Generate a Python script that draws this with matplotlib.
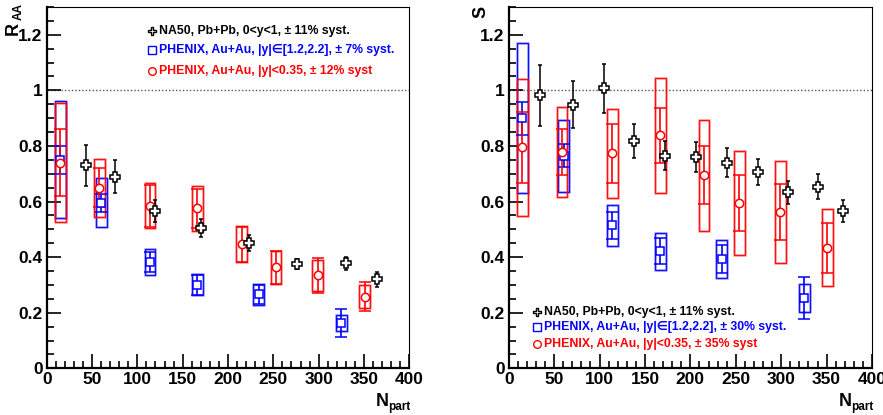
import matplotlib
matplotlib.use("Agg")
import matplotlib.pyplot as plt
from matplotlib.patches import Rectangle
from matplotlib.ticker import MultipleLocator

FAM = ['Liberation Sans', 'DejaVu Sans']
plt.rcParams['font.family'] = FAM
plt.rcParams['font.weight'] = 'bold'

# ---------------- Left panel: R_AA ----------------
na50_npart_L = [43, 75, 119, 170, 223, 276, 330, 364]
na50_raa = [0.73, 0.69, 0.565, 0.505, 0.45, 0.375, 0.378, 0.32]
na50_raa_err = [0.073, 0.06, 0.04, 0.033, 0.028, 0.019, 0.023, 0.028]

fwd_npart_L = [15, 60, 114, 166, 234, 325]
fwd_raa = [0.75, 0.595, 0.383, 0.30, 0.266, 0.164]
fwd_raa_stat = [0.05, 0.032, 0.037, 0.035, 0.035, 0.05]
fwd_raa_syst = [0.21, 0.088, 0.047, 0.038, 0.037, 0.028]

mid_npart_L = [15, 58, 114, 166, 215, 253, 299, 351]
mid_raa = [0.74, 0.65, 0.585, 0.575, 0.446, 0.363, 0.334, 0.258]
mid_raa_stat = [0.12, 0.07, 0.075, 0.07, 0.063, 0.06, 0.063, 0.053]
mid_raa_syst = [0.215, 0.104, 0.08, 0.08, 0.065, 0.06, 0.055, 0.042]

# ---------------- Right panel: S ----------------
na50_npart_R = [34.5, 71, 105, 138, 172, 206, 240, 274, 308, 340, 368]
na50_s = [0.983, 0.948, 1.007, 0.818, 0.765, 0.76, 0.74, 0.706, 0.633, 0.653, 0.565]
na50_s_err = [0.11, 0.084, 0.087, 0.061, 0.053, 0.055, 0.051, 0.048, 0.042, 0.045, 0.039]

fwd_npart_R = [15, 60.6, 114, 166.7, 234.7, 325.4]
fwd_s = [0.899, 0.765, 0.514, 0.421, 0.393, 0.252]
fwd_s_stat = [0.06, 0.041, 0.05, 0.047, 0.05, 0.076]
fwd_s_syst = [0.27, 0.13, 0.075, 0.066, 0.068, 0.05]

mid_npart_R = [15, 58.7, 114, 166.7, 215, 254, 299, 351]
mid_s = [0.795, 0.777, 0.773, 0.838, 0.695, 0.595, 0.562, 0.434]
mid_s_stat = [0.127, 0.083, 0.105, 0.098, 0.105, 0.1, 0.1, 0.09]
mid_s_syst = [0.247, 0.162, 0.16, 0.206, 0.2, 0.187, 0.184, 0.139]

legend_L = ["NA50, Pb+Pb, 0<y<1, \u00b1 11% syst.",
            "PHENIX, Au+Au, |y|\u2208[1.2,2.2], \u00b1 7% syst.",
            "PHENIX, Au+Au, |y|<0.35, \u00b1 12% syst"]
legend_R = ["NA50, Pb+Pb, 0<y<1, \u00b1 11% syst.",
            "PHENIX, Au+Au, |y|\u2208[1.2,2.2], \u00b1 30% syst.",
            "PHENIX, Au+Au, |y|<0.35, \u00b1 35% syst"]

x_ticks = [0, 50, 100, 150, 200, 250, 300, 350, 400]
y_ticks = [0, 0.2, 0.4, 0.6, 0.8, 1.0, 1.2]
y_ticklabels = ['0', '0.2', '0.4', '0.6', '0.8', '1', '1.2']

BLUE = '#0000ff'
RED = '#ff0000'
BOX_HW = 6.0

fig = plt.figure(figsize=(8.83, 4.15), dpi=100)
axL = fig.add_axes([46.7 / 883, 1 - 368.3 / 415, 362.6 / 883, 361.3 / 415])
axR = fig.add_axes([508.7 / 883, 1 - 368.3 / 415, 363.3 / 883, 361.3 / 415])


def draw_boxes(ax, xs, ys, syst, color):
    for x, y, s in zip(xs, ys, syst):
        ax.add_patch(Rectangle((x - BOX_HW, y - s), 2 * BOX_HW, 2 * s,
                               fill=False, edgecolor=color, lw=1.8, alpha=0.35, zorder=2))
        ax.add_patch(Rectangle((x - BOX_HW, y - s), 2 * BOX_HW, 2 * s,
                               fill=False, edgecolor=color, lw=0.9, alpha=0.9, zorder=2))


def panel(ax, na50x, na50y, na50e, fx, fy, fst, fsy, mx, my, mst, msy, legend, legx, legy):
    draw_boxes(ax, fx, fy, fsy, BLUE)
    draw_boxes(ax, mx, my, msy, RED)
    ax.errorbar(fx, fy, yerr=fst, fmt='s', ms=5.5, mfc='white', mec=BLUE, mew=1.1,
                ecolor=BLUE, elinewidth=1.2, capsize=4, capthick=1.2, zorder=4)
    ax.errorbar(mx, my, yerr=mst, fmt='o', ms=6, mfc='white', mec=RED, mew=1.1,
                ecolor=RED, elinewidth=1.2, capsize=4, capthick=1.2, zorder=4)
    ax.errorbar(na50x, na50y, yerr=na50e, fmt='P', ms=7, mfc='white', mec='black', mew=1.1,
                ecolor='black', elinewidth=1.1, capsize=1.6, capthick=1.1, zorder=5)
    ax.axhline(1.0, color='#555555', lw=1.0, ls=(0, (1, 1.5)), zorder=1)
    ax.set_xlim(0, 400)
    ax.set_ylim(0, 1.3)
    ax.set_xticks(x_ticks)
    ax.set_xticklabels([str(v) for v in x_ticks], fontweight='bold')
    ax.set_yticks(y_ticks)
    ax.set_yticklabels(y_ticklabels, fontweight='bold')
    ax.xaxis.set_minor_locator(MultipleLocator(10))
    ax.yaxis.set_minor_locator(MultipleLocator(0.05))
    ax.tick_params(which='both', direction='in', top=False, right=False,
                   labelsize=12.5, width=1.2)
    ax.tick_params(which='major', length=10)
    ax.tick_params(axis='x', which='major', pad=3)
    ax.tick_params(axis='y', which='major', pad=3)
    ax.tick_params(which='minor', length=5)
    for sp in ('left', 'bottom'):
        ax.spines[sp].set_linewidth(1.6)
    for sp in ('top', 'right'):
        ax.spines[sp].set_linewidth(0.8)
    styles = [dict(marker='P', ms=6, mfc='white', mec='black', mew=1.0),
              dict(marker='s', ms=5.5, mfc='white', mec=BLUE, mew=1.0),
              dict(marker='o', ms=5.5, mfc='white', mec=RED, mew=1.0)]
    colors = ['black', BLUE, RED]
    mx0, tx0 = legx
    for lab, st, c, yy in zip(legend, styles, colors, legy):
        ax.plot([mx0], [yy], transform=ax.transAxes, ls='none', clip_on=False, **st)
        ax.text(tx0, yy, lab, transform=ax.transAxes, color=c, fontsize=8.8,
                fontweight='bold', va='center', ha='left')


panel(axL, na50_npart_L, na50_raa, na50_raa_err,
      fwd_npart_L, fwd_raa, fwd_raa_stat, fwd_raa_syst,
      mid_npart_L, mid_raa, mid_raa_stat, mid_raa_syst,
      legend_L, (0.2896, 0.3105), (0.933, 0.880, 0.822))
panel(axR, na50_npart_R, na50_s, na50_s_err,
      fwd_npart_R, fwd_s, fwd_s_stat, fwd_s_syst,
      mid_npart_R, mid_s, mid_s_stat, mid_s_syst,
      legend_R, (0.077, 0.098), (0.155, 0.115, 0.067))

def ftxt(x, y, s, size, rot=0):
    fig.text(x / 883, 1 - y / 415, s, rotation=rot, fontsize=size,
             fontweight='bold', ha='center', va='center')

# axis titles
ftxt(13, 28, 'R', 13, 90)
ftxt(19, 12, 'AA', 8.5, 90)
ftxt(481, 12, 'S', 13, 90)
ftxt(382, 401, 'N', 13)
ftxt(399.5, 407, 'part', 8.5)
ftxt(845, 401, 'N', 13)
ftxt(862.5, 407, 'part', 8.5)

fig.savefig('out.png', dpi=100)
